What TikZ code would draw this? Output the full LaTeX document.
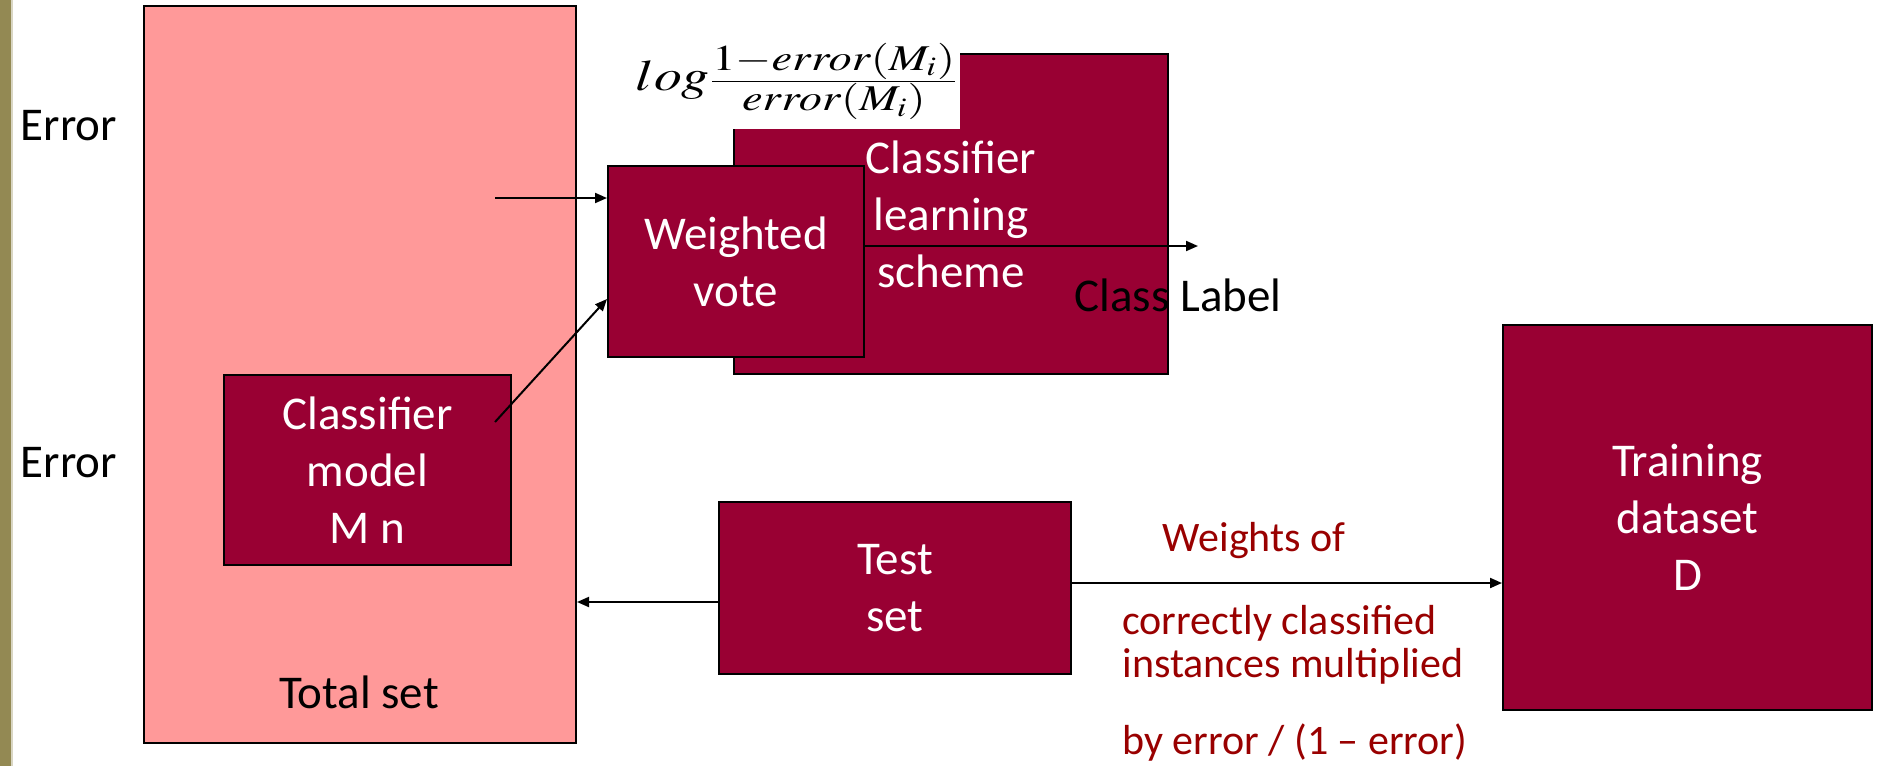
\documentclass[tikz,border=0pt]{standalone}
\usepackage{mathptmx}
\usepackage[no-math]{fontspec}
\setmainfont{Carlito}
\usepackage{graphicx}
\usepackage{xcolor}
\definecolor{wine}{HTML}{990033}
\definecolor{salmon}{HTML}{FF9999}
\definecolor{rust}{HTML}{990000}
\definecolor{olivebar}{HTML}{938953}
\usepackage{tikz}
\usetikzlibrary{positioning, arrows.meta, calc}

\begin{document}
\begin{tikzpicture}[
  x=0.5pt, y=-0.5pt,
  block/.style={rectangle, draw=black, line width=1pt, fill=wine, text=white, align=center, font=\fontsize{23.5}{28.5}\selectfont, inner sep=0pt},
  lbl/.style={font=\fontsize{23.5}{28.5}\selectfont, inner sep=0pt},
  note/.style={text=rust, align=left, font=\fontsize{21}{21.5}\selectfont, inner sep=0pt},
  arr/.style={-{Triangle[length=6pt,width=5pt]}, line width=1pt}
]
  \useasboundingbox (0,0) rectangle (1878,766);
  \fill[olivebar] (0,0) rectangle (11,766);
  \fill[olivebar!35] (11,0) rectangle (13,766);

  % total set with the model inside
  \node[block, fill=salmon, minimum width=216pt, minimum height=368.5pt] (total) at (360,374.5) {};
  \node[lbl] (totallbl) at (359,692) {Total set};
  \node[block, minimum width=143.5pt, minimum height=95pt] (model) at (367.5,470) {Classifier\\model\\M n};

  % learning scheme, weight formula and vote
  \node[block, minimum width=217pt, minimum height=160pt] (learn) at (951,214) {Classifier\\learning\\scheme};
  \node[fill=white, minimum width=163pt, minimum height=47.5pt, inner sep=0pt, font=\fontsize{20}{24}\selectfont] (weightf) at (797,81.5)
    {\resizebox*{161pt}{38.5pt}{$\mbox{\fontsize{24}{28}\selectfont$log$}\frac{\textstyle 1{-}error(M_i)}{\textstyle error(M_i)}$}};
  \node[block, minimum width=128pt, minimum height=95.5pt] (vote) at (736,261.5) {Weighted\\vote};

  % test set and training data
  \node[block, minimum width=176pt, minimum height=86pt] (test) at (895,588) {Test\\set};
  \node[block, minimum width=184.5pt, minimum height=192.5pt] (train) at (1687.5,517.5) {Training\\dataset\\D};

  \node[lbl] (err1) at (69,126) {Error};
  \node[lbl] (err2) at (69,463) {Error};
  \node[lbl] (cls) at (1178,295) {Class Label};
  \node[note] (wts) at (1254,541) {Weights of};
  \node[note, anchor=west] (corr) at (1122,645) {correctly classified\\instances multiplied};
  \node[note, anchor=west] (byerr) at (1122,743) {by error / (1 -- error)};

  % connectors
  \coordinate (feed) at (495,198);
  \draw[arr] (feed) -- (vote.west |- feed);
  \coordinate (mtail) at (495,422);
  \draw[arr] (mtail) -- (vote.west |- 0,299);
  \coordinate (out) at (1198,246);
  \draw[arr] (vote.east |- out) -- (out);
  \draw[arr] (test.west |- 0,602) -- (total.east |- 0,602);
  \draw[arr] (test.east |- 0,583) -- (train.west |- 0,583);
\end{tikzpicture}
\end{document}
